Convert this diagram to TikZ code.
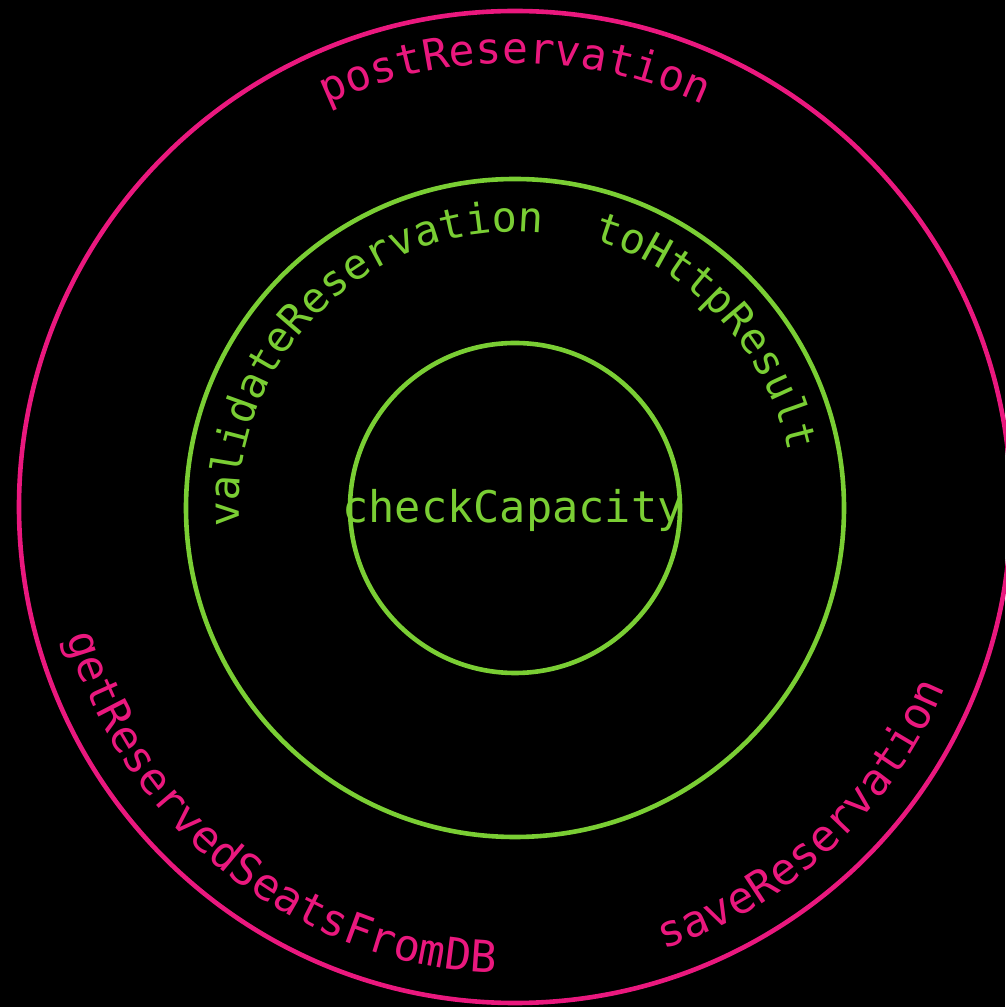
\documentclass[tikz,border=0pt]{standalone}
\usepackage{fontspec}
\setmonofont{DejaVu Sans Mono}
\usetikzlibrary{decorations.text}

\definecolor{ringpink}{RGB}{234,24,126}
\definecolor{ringgreen}{RGB}{122,206,52}

\tikzset{
  ring/.style={draw=#1, line width=4.6pt},
  % #1 colour, #2 font size, #3 text
  ringtext/.style n args={3}{decorate, decoration={text along path,
      text align=center, text color=#1,
      text={|\ttfamily\fontsize{#2pt}{#2pt}\selectfont|#3}}},
  coretext/.style={text=ringgreen, font=\ttfamily\fontsize{43.6pt}{43.6pt}\selectfont,
      inner sep=0pt, anchor=base}
}

\begin{document}
\begin{tikzpicture}
  % canvas
  \fill[black] (0pt,0pt) rectangle (1005pt,1007pt);
  \useasboundingbox (0pt,0pt) rectangle (1005pt,1007pt);

  \coordinate (C) at (515pt,499pt);
  \coordinate (Co) at (515pt,500pt);

  % rings
  \draw[ring=ringpink] (Co) circle[radius=496pt];
  \draw[ring=ringgreen] (C) circle[radius=329pt];
  \draw[ring=ringgreen] (C) circle[radius=165pt];

  % labels on the outer ring
  \path[ringtext={ringpink}{43}{postReservation}]
    (C) ++(130:445pt) arc[start angle=130, end angle=50, radius=445pt];
  \path[ringtext={ringpink}{44}{getReservedSeatsFromDB}]
    (C) ++(181.8:466pt) arc[start angle=181.8, end angle=281.8, radius=466pt];
  \path[ringtext={ringpink}{44}{saveReservation}]
    (C) ++(273:466pt) arc[start angle=273, end angle=353, radius=466pt];

  % labels on the middle ring
  \path[ringtext={ringgreen}{42}{validateReservation}]
    (C) ++(204:276pt) arc[start angle=204, end angle=64, radius=276pt];
  \path[ringtext={ringgreen}{42}{toHttpResult}]
    (C) ++(92.8:279pt) arc[start angle=92.8, end angle=-7.2, radius=279pt];

  % core
  \node[coretext] (core) at (513pt,484pt) {checkCapacity};
\end{tikzpicture}
\end{document}
